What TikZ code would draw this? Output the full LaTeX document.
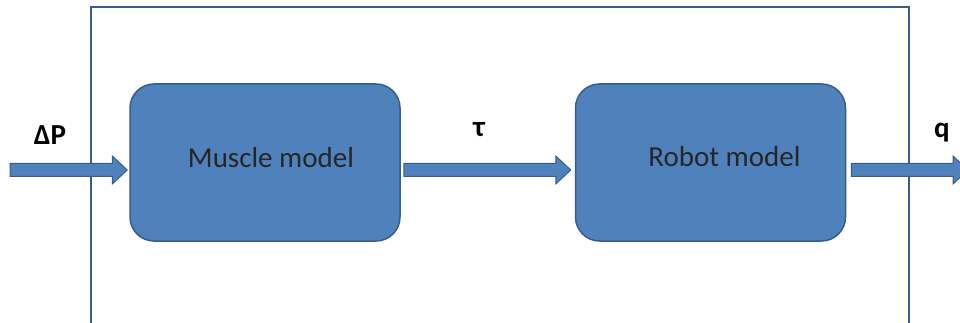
\documentclass[tikz,border=0pt]{standalone}
\usepackage{fontspec}
\setmainfont{Carlito}
\usetikzlibrary{positioning,calc}
\definecolor{modelblue}{RGB}{79,129,189}
\definecolor{edgeblue}{RGB}{56,93,138}
\tikzset{
  modelbox/.style={draw=edgeblue, fill=modelblue, line width=1.5pt, rounded corners=24pt,
    minimum width=270pt, minimum height=157pt, inner sep=0pt},
  boxtext/.style={font=\fontsize{29}{33}\selectfont, text=black!85},
  signal/.style={font=\bfseries\fontsize{29}{32}\selectfont},
  blockarrow/.style={draw=edgeblue, fill=modelblue, line width=1pt,
    to path={let \p1=(\tikztostart), \p2=(\tikztotarget) in
      (\x1,\y1+6.5pt) -- (\x2-15pt,\y1+6.5pt) -- (\x2-15pt,\y1+14pt) -- (\x2,\y1)
      -- (\x2-15pt,\y1-14pt) -- (\x2-15pt,\y1-6.5pt) -- (\x1,\y1-6.5pt) -- cycle}},
  frame/.style={draw=edgeblue, line width=2.5pt}
}
\begin{document}
\begin{tikzpicture}[x=1pt, y=-1pt]
\useasboundingbox (0,0) rectangle (960,323);
\clip (0,0) rectangle (960,323);
% outer frame, open at the bottom
\draw[frame] (91,330) |- (909,7) -- (909,330);
% the two models
\node[modelbox] (muscle) at (265,162.5) {};
\node[modelbox] (robot) at (710.5,162.5) {};
\node[boxtext] (muscletext) at ([shift={(6,-4.5)}]muscle.center) {Muscle model};
\node[boxtext] (robottext) at ([shift={(14,-6)}]robot.center) {Robot model};
% signals
\coordinate (in) at (10,170);
\coordinate (out) at (968,170);
\draw[blockarrow] (in) to ([xshift=-2pt]in -| muscle.west);
\draw[blockarrow] ([shift={(3,7.5)}]muscle.east) to ([xshift=-4pt]robot.west);
\draw[blockarrow] ([shift={(5,7.5)}]robot.east) to (out);
\node[signal] (dp) at (50,135) {ΔP};
\node[signal] (tau) at (479,130) {τ};
\node[signal] (q) at (942,133) {q};
\end{tikzpicture}
\end{document}
